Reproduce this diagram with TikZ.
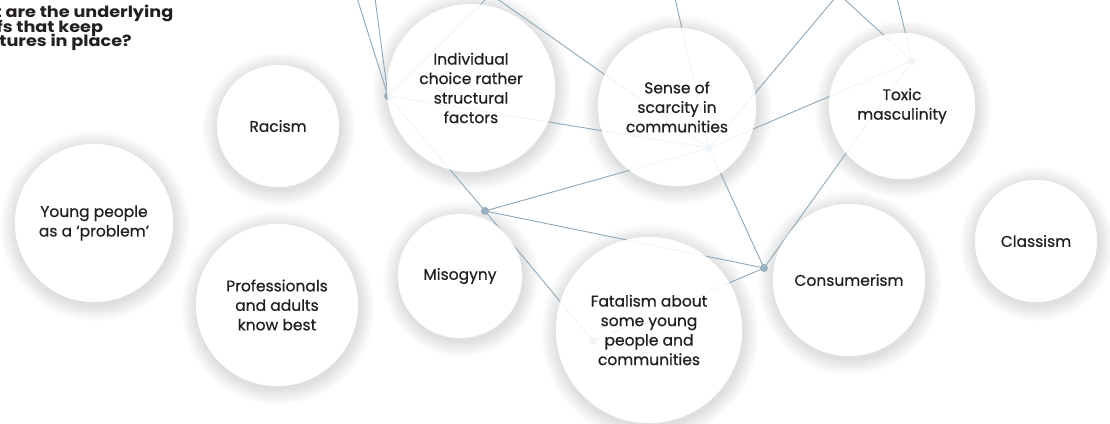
\documentclass[tikz,border=0pt]{standalone}
\usepackage{fontspec}
\setmainfont{Poppins}
\newfontfamily\labelfont[FakeBold=0.6]{Poppins}
\newfontfamily\headfont[FakeStretch=1.14]{Poppins}
\newcommand\headtype{\headfont\bfseries\fontsize{15.5}{14.5}\selectfont\lineskiplimit=-20pt\relax}
\usetikzlibrary{calc}
\definecolor{linkblue}{HTML}{8FA8B9}
\definecolor{hubblue}{HTML}{9AB0BE}
\definecolor{ink}{HTML}{231F20}
\tikzset{
  link/.style={draw=linkblue, line width=0.9pt},
  hubdot/.style={fill=hubblue},
  shade ring/.style={fill=black, opacity=0.0075},
  base disc/.style={fill=white},
  bubble/.style={circle, fill=white, fill opacity=0.88, text opacity=1, text=ink,
    align=center, inner sep=0pt, font=\labelfont\fontsize{15.5}{19.5}\selectfont},
  heading/.style={anchor=north west, align=left, inner sep=0pt, text=ink,
    font=\headtype},
}
\begin{document}
\begin{tikzpicture}[x=1pt,y=-1pt]
\useasboundingbox (0,0) rectangle (1110,423);
\clip (0,0) rectangle (1110,423);
\fill[white] (0,0) rectangle (1110,423);

% bubble centres
\coordinate (p-young)  at (94,223);
\coordinate (p-racism) at (278,126);
\coordinate (p-prof)   at (277,305);
\coordinate (p-indiv)  at (471,88);
\coordinate (p-scarc)  at (677,107);
\coordinate (p-toxic)  at (902,106);
\coordinate (p-misog)  at (460,276);
\coordinate (p-fatal)  at (649,330);
\coordinate (p-consum) at (849,280);
\coordinate (p-class)  at (1036,241);

% soft shadows: stacked faint rings, then an opaque white disc on top
\foreach \n/\r in {young/79, racism/61, prof/81, indiv/84, scarc/79, toxic/73,
                   misog/62, fatal/93, consum/76, class/61}{
  \foreach \k in {1,...,16}
    \fill[shade ring] ($(p-\n)+(1,3)$) circle[radius={(\r+\k)*1pt}];
}
\foreach \n/\r in {young/79, racism/61, prof/81, indiv/84, scarc/79, toxic/73,
                   misog/62, fatal/93, consum/76, class/61}
  \fill[base disc] (p-\n) circle[radius={\r*1pt}];

% network hubs and loose ends at the top edge
\coordinate (hA) at (388,96);
\coordinate (hB) at (709,148);
\coordinate (hC) at (912,61);
\coordinate (hM) at (485,211);
\coordinate (hN) at (764,268);
\coordinate (hF) at (593,341);
\coordinate (tA1) at (357,-2);
\coordinate (tA2) at (375,-2);
\coordinate (tA3) at (487,-2);
\coordinate (tB1) at (496,-2);
\coordinate (tB2) at (675,-2);
\coordinate (tB3) at (835,-2);
\coordinate (tC1) at (843,-2);
\coordinate (tC2) at (897,-2);

\draw[link] (tA1) -- (hA);
\draw[link] (tA2) -- (hA);
\draw[link] (tA3) -- (hA);
\draw[link] (tB1) -- (hB);
\draw[link] (tB2) -- (hB);
\draw[link] (tB3) -- (hB);
\draw[link] (tC1) -- (hC);
\draw[link] (tC2) -- (hC);
\draw[link] (hA) -- (hB);
\draw[link] (hA) -- (hM);
\draw[link] (hM) -- (hB);
\draw[link] (hB) -- (hC);
\draw[link] (hB) -- (hN);
\draw[link] (hC) -- (hN);
\draw[link] (hM) -- (hN);
\draw[link] (hM) -- (hF);
\draw[link] (hF) -- (hN);

\foreach \h in {hA, hB, hC, hM, hN, hF}
  \fill[hubdot] (\h) circle[radius=4pt];

% bubbles
\node[bubble, minimum size=158pt] (young)  at (p-young)  {Young people\\as a ‘problem’};
\node[bubble, minimum size=122pt] (racism) at (p-racism) {Racism};
\node[bubble, minimum size=162pt] (prof)   at (p-prof)   {Professionals\\and adults\\know best};
\node[bubble, minimum size=168pt] (indiv)  at (p-indiv)  {Individual\\choice rather\\structural\\factors};
\node[bubble, minimum size=158pt] (scarc)  at (p-scarc)  {Sense of\\scarcity in\\communities};
\node[bubble, minimum size=146pt] (toxic)  at (p-toxic)  {Toxic\\masculinity};
\node[bubble, minimum size=124pt] (misog)  at (p-misog)  {Misogyny};
\node[bubble, minimum size=186pt] (fatal)  at (p-fatal)  {Fatalism about\\some young\\people and\\communities};
\node[bubble, minimum size=152pt] (consum) at (p-consum) {Consumerism};
\node[bubble, minimum size=122pt] (class)  at (p-class)  {Classism};

% heading
\node[heading] (title) at (-48,5) {What are the underlying\\beliefs that keep\\structures in place?};
\end{tikzpicture}
\end{document}
